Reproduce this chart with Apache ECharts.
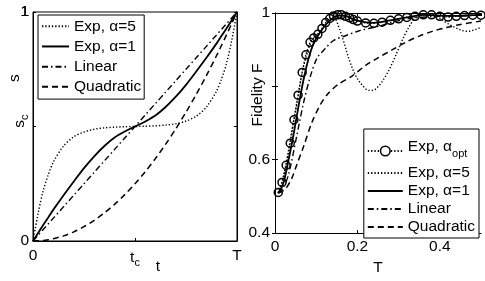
<!DOCTYPE html>
<html>
<head>
<meta charset="utf-8">
<script src="https://cdn.jsdelivr.net/npm/echarts@6/dist/echarts.min.js"></script>
<style>
html,body{margin:0;padding:0;background:#fff;}
#c{width:485px;height:281px;}
</style>
</head>
<body>
<div id="c"></div>
<script>
// ---------- Left panel: schedules s(t) ----------
const tLeft      = [0, 0.025, 0.05, 0.075, 0.1, 0.15, 0.2, 0.25, 0.3, 0.35, 0.4, 0.45, 0.5, 0.55, 0.6, 0.65, 0.7, 0.75, 0.8, 0.85, 0.9, 0.925, 0.95, 0.975, 1];
const sExp5      = [0, 0.12, 0.22, 0.29, 0.345, 0.415, 0.455, 0.476, 0.488, 0.494, 0.497, 0.499, 0.5, 0.501, 0.503, 0.506, 0.512, 0.524, 0.545, 0.585, 0.655, 0.71, 0.78, 0.88, 1];
const sExp1      = [0, 0.035, 0.07, 0.103, 0.137, 0.2, 0.26, 0.318, 0.37, 0.415, 0.452, 0.478, 0.5, 0.522, 0.548, 0.585, 0.63, 0.682, 0.74, 0.8, 0.863, 0.897, 0.93, 0.965, 1];
const sLinear    = [0, 0.025, 0.05, 0.075, 0.1, 0.15, 0.2, 0.25, 0.3, 0.35, 0.4, 0.45, 0.5, 0.55, 0.6, 0.65, 0.7, 0.75, 0.8, 0.85, 0.9, 0.925, 0.95, 0.975, 1];
const sQuad      = [0, 0.001, 0.0025, 0.0056, 0.01, 0.0225, 0.04, 0.0625, 0.09, 0.1225, 0.16, 0.2025, 0.25, 0.3025, 0.36, 0.4225, 0.49, 0.5625, 0.64, 0.7225, 0.81, 0.856, 0.9025, 0.951, 1];
const leftXTicks = {0: '0', 0.5: '{n|t}{sub|c}', 1: 'T'};
const leftYTicks = {0: '0', 1: '1'};
const leftYTop = '1';
const leftYMidLabel = '{n|s}{sub|c}';

// ---------- Right panel: fidelity vs T ----------
const tOpt = [0.008, 0.017, 0.027, 0.037, 0.046, 0.056, 0.066, 0.075, 0.085, 0.094, 0.104, 0.114, 0.123, 0.133, 0.142, 0.152, 0.161, 0.171, 0.181, 0.19, 0.2, 0.22, 0.24, 0.26, 0.28, 0.3, 0.32, 0.34, 0.36, 0.38, 0.4, 0.42, 0.44, 0.46, 0.48, 0.5];
const fOpt = [0.511, 0.538, 0.585, 0.645, 0.709, 0.776, 0.838, 0.886, 0.92, 0.932, 0.942, 0.958, 0.974, 0.985, 0.992, 0.995, 0.995, 0.991, 0.987, 0.982, 0.978, 0.973, 0.972, 0.975, 0.98, 0.984, 0.988, 0.991, 0.995, 0.995, 0.991, 0.989, 0.991, 0.993, 0.994, 0.994];

const tA1 = [0.008, 0.02, 0.033, 0.046, 0.058, 0.07, 0.082, 0.094, 0.107, 0.123, 0.139, 0.155, 0.17, 0.2, 0.24, 0.28, 0.32, 0.36, 0.4, 0.44, 0.48, 0.5];
const fA1 = [0.509, 0.535, 0.6, 0.675, 0.752, 0.822, 0.878, 0.918, 0.943, 0.968, 0.985, 0.993, 0.992, 0.979, 0.973, 0.98, 0.988, 0.995, 0.993, 0.992, 0.994, 0.995];

const tA5 = [0.007, 0.017, 0.029, 0.041, 0.054, 0.066, 0.078, 0.09, 0.107, 0.123, 0.143, 0.155, 0.167, 0.18, 0.196, 0.212, 0.228, 0.237, 0.253, 0.269, 0.285, 0.302, 0.318, 0.334, 0.346, 0.359, 0.383, 0.399, 0.415, 0.436, 0.456, 0.468, 0.489, 0.5];
const fA5 = [0.509, 0.539, 0.601, 0.68, 0.759, 0.838, 0.89, 0.925, 0.947, 0.969, 0.987, 0.961, 0.921, 0.873, 0.829, 0.803, 0.789, 0.789, 0.803, 0.829, 0.864, 0.908, 0.947, 0.978, 0.994, 0.996, 0.994, 0.987, 0.974, 0.961, 0.952, 0.95, 0.956, 0.961];

const tLin = [0.008, 0.02, 0.033, 0.053, 0.069, 0.085, 0.102, 0.122, 0.142, 0.171, 0.203, 0.252, 0.293, 0.333, 0.38, 0.42, 0.46, 0.5];
const fLin = [0.509, 0.524, 0.56, 0.666, 0.754, 0.824, 0.877, 0.903, 0.925, 0.938, 0.951, 0.964, 0.977, 0.986, 0.99, 0.992, 0.993, 0.994];

const tQuad = [0.008, 0.025, 0.041, 0.054, 0.069, 0.089, 0.11, 0.13, 0.154, 0.187, 0.22, 0.252, 0.285, 0.317, 0.35, 0.382, 0.415, 0.447, 0.5];
const fQuad = [0.509, 0.52, 0.55, 0.59, 0.635, 0.7, 0.75, 0.782, 0.806, 0.828, 0.857, 0.879, 0.9, 0.92, 0.937, 0.95, 0.96, 0.968, 0.978];

const rightXTicks = {0: '0', 0.2: '0.2', 0.4: '0.4'};
const rightYTicks = {0.4: '0.4', 0.6: '0.6', 1: '1'};

const legendLeft  = ['Exp, α=5', 'Exp, α=1', 'Linear', 'Quadratic'];
const legendRight = ['Exp, α_opt', 'Exp, α=5', 'Exp, α=1', 'Linear', 'Quadratic'];

// ---------- helpers ----------
const FONT = 'Liberation Sans';
const FS = 15.5;
const GRID_L = {left: 33, top: 12, width: 204, height: 229, show: true, borderColor: '#000', borderWidth: 1, backgroundColor: 'transparent'};
const GRID_R = {left: 275, top: 13, width: 206, height: 228};
const zip = (a, b) => a.map((v, i) => [v, b[i]]);
const lookup = (map) => (v) => {
  for (const k in map) { if (Math.abs(parseFloat(k) - v) < 1e-6) return map[k]; }
  return '';
};
const STY = {
  dotted:  {type: [1.3, 2], width: 1.4},
  solid:   {type: 'solid', width: 1.8},
  dashdot: {type: [6, 3, 1.5, 3], width: 1.4},
  dashed:  {type: [6, 4], width: 1.5}
};
const lineSeries = (name, data, sty, xi, yi, extra) => Object.assign({
  type: 'line', name, data, xAxisIndex: xi, yAxisIndex: yi,
  symbol: 'none', smooth: 0.3, color: '#000',
  lineStyle: Object.assign({color: '#000'}, sty), animation: false
}, extra || {});

const axisBase = {
  axisLine: {lineStyle: {color: '#000', width: 1}},
  axisTick: {inside: true, length: 3, lineStyle: {color: '#000'}},
  splitLine: {show: false},
  axisLabel: {color: '#000', fontFamily: FONT, fontSize: FS}
};
const mk = (o) => Object.assign({}, JSON.parse(JSON.stringify(axisBase)), o);
const rich = {n: {fontFamily: FONT, fontSize: FS, color: '#000'},
              sub: {fontFamily: FONT, fontSize: 11, color: '#000', padding: [9, 0, 0, 0]}};
const richLeg = {n: {fontFamily: FONT, fontSize: FS, color: '#000', lineHeight: 24, verticalAlign: 'top'},
                 sub: {fontFamily: FONT, fontSize: 11, color: '#000', lineHeight: 24, padding: [6, 0, 0, 0]}};
const noSym = {color: 'rgba(0,0,0,0)', borderColor: 'rgba(0,0,0,0)', borderWidth: 0};
const legItems = (names) => names.map((n) => n === 'Exp, α_opt'
  ? {name: n, itemStyle: {color: '#fff', borderColor: '#000', borderWidth: 1.5}}
  : {name: n, itemStyle: noSym});
const txt = (text, x, y, rot, extra) => ({
  type: 'text', x, y, rotation: rot || 0, z: 10,
  style: Object.assign({text, x: 0, y: 0, align: 'center', verticalAlign: 'middle',
    fontFamily: FONT, fontSize: FS, fill: '#000'}, extra || {})
});

const chart = echarts.init(document.getElementById('c'), null, {renderer: 'canvas'});
const option = {
  backgroundColor: '#fff',
  animation: false,
  grid: [GRID_L, GRID_R],
  xAxis: [
    mk({type: 'value', gridIndex: 0, min: 0, max: 1, interval: 0.5, position: 'bottom',
        axisLabel: {color: '#000', fontFamily: FONT, fontSize: FS, margin: 7, formatter: lookup(leftXTicks), rich,
                    showMinLabel: true, showMaxLabel: true}}),
    mk({type: 'value', gridIndex: 1, min: 0, max: 0.5, interval: 0.2, position: 'bottom',
        axisLabel: {color: '#000', fontFamily: FONT, fontSize: FS, margin: 6, formatter: lookup(rightXTicks), showMaxLabel: false},
        name: 'T', nameLocation: 'middle', nameGap: 19,
        nameTextStyle: {color: '#000', fontFamily: FONT, fontSize: FS}}),
    mk({type: 'value', gridIndex: 1, min: 0, max: 0.5, interval: 0.2, position: 'top', axisLabel: {show: false}})
  ],
  yAxis: [
    mk({type: 'value', gridIndex: 0, min: 0, max: 1, interval: 0.5, position: 'left',
        axisLabel: {color: '#000', fontFamily: FONT, fontSize: FS, margin: 4, formatter: lookup(leftYTicks),
                    showMinLabel: true, showMaxLabel: true, hideOverlap: false}}),
    mk({type: 'value', gridIndex: 0, min: 0, max: 1, interval: 0.5, position: 'right', axisLabel: {show: false}}),
    mk({type: 'value', gridIndex: 1, min: 0.4, max: 1, interval: 0.2, position: 'left',
        axisLabel: {color: '#000', fontFamily: FONT, fontSize: FS, margin: 5, formatter: lookup(rightYTicks),
                    showMinLabel: true, showMaxLabel: true}}),
    mk({type: 'value', gridIndex: 1, min: 0.4, max: 1, interval: 0.2, position: 'right', axisLabel: {show: false}})
  ],
  legend: [
    {
      data: legItems(legendLeft), orient: 'vertical', left: 38, top: 15,
      itemWidth: 27, itemHeight: 12, itemGap: 3.7,
      padding: [3, 3, 4, 3], borderColor: '#000', borderWidth: 1, backgroundColor: '#fff',
      textStyle: {color: '#000', fontFamily: FONT, fontSize: FS, lineHeight: 16.5},
      selectedMode: false
    },
    {
      data: legItems(legendRight), orient: 'vertical', right: 6, bottom: 43,
      itemWidth: 35, itemHeight: 12, itemGap: 2,
      padding: [10, 4, 3, 3], borderColor: '#000', borderWidth: 1, backgroundColor: '#fff',
      textStyle: {color: '#000', fontFamily: FONT, fontSize: FS, lineHeight: 16, rich: richLeg},
      formatter: (n) => n === 'Exp, α_opt' ? '{n|Exp, α}{sub|opt}' : n,
      selectedMode: false
    }
  ],
  graphic: [
    txt('s', 15, 78, Math.PI / 2),
    txt(leftYMidLabel, 20, 121, Math.PI / 2, {rich}),
    txt('t', 158, 267, 0),
    txt('Fidelity F', 258, 95, Math.PI / 2),
    // top tick label of the left y axis, at the top end of that axis
    txt(leftYTop, GRID_L.left - 4, GRID_L.top, 0, {align: 'right'})
  ],
  series: [
    lineSeries('Exp, α=5', zip(tLeft, sExp5), STY.dotted, 0, 0),
    lineSeries('Exp, α=1', zip(tLeft, sExp1), STY.solid, 0, 0),
    lineSeries('Linear', zip(tLeft, sLinear), STY.dashdot, 0, 0),
    lineSeries('Quadratic', zip(tLeft, sQuad), STY.dashed, 0, 0),

    lineSeries('Quadratic', zip(tQuad, fQuad), STY.dashed, 1, 2),
    lineSeries('Linear', zip(tLin, fLin), STY.dashdot, 1, 2),
    lineSeries('Exp, α=5', zip(tA5, fA5), STY.dotted, 1, 2, {smooth: 0.35}),
    lineSeries('Exp, α=1', zip(tA1, fA1), STY.solid, 1, 2),
    lineSeries('Exp, α_opt', zip(tOpt, fOpt), STY.dotted, 1, 2, {
      symbol: 'circle', symbolSize: 8, showSymbol: true, smooth: 0.2, z: 5,
      itemStyle: {color: 'rgba(255,255,255,0)', borderColor: '#000', borderWidth: 1.5}
    })
  ]
};
chart.setOption(option);
</script>
</body>
</html>
